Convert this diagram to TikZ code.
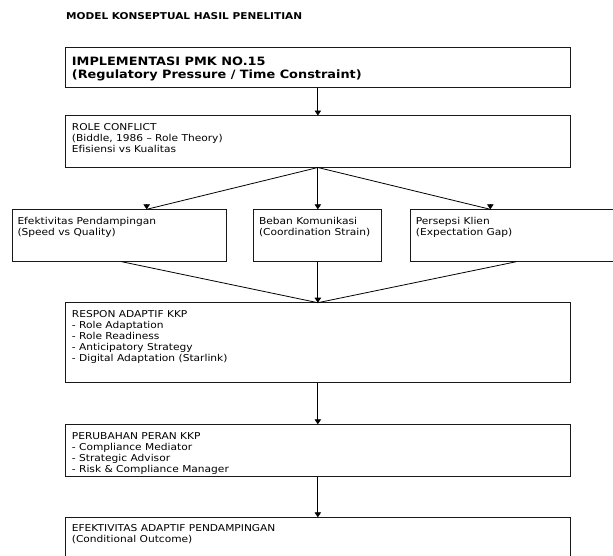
\documentclass[tikz,border=0pt]{standalone}
\usepackage{fontspec}
\setmainfont{DejaVu Sans}[FakeStretch=1.12, Ligatures=NoCommon]
\usetikzlibrary{arrows.meta,calc}
\newcommand{\bodyfnt}{\fontsize{9.5}{11}\selectfont}
\newcommand{\headfnt}{\fontsize{11.5}{13}\selectfont\bfseries}
\newcommand{\titlefnt}{\fontsize{9.4}{11}\selectfont\bfseries}
\newcommand{\bs}{\rule{0pt}{8pt}}
\newcommand{\hs}{\rule{0pt}{10pt}}
\begin{document}
\begin{tikzpicture}[x=1pt,y=-1pt,
  box/.style={draw=black!90, line width=1pt, inner sep=0pt, outer sep=0pt},
  txt/.style={anchor=north west, inner sep=0pt, align=left, font=\bodyfnt},
  conn/.style={line width=0.8pt},
  tip/.style={-{Triangle[width=6.5pt,length=5pt]}, line width=0.8pt}]
\useasboundingbox (0,0) rectangle (613,555);
\clip (0,0) rectangle (613,555);
\fill[white] (0,0) rectangle (613,555);

\node[anchor=base west, inner sep=0pt, font=\titlefnt] (title) at (66,19.5) {MODEL KONSEPTUAL HASIL PENELITIAN};

% boxes
\node[box, minimum width=504.3pt, minimum height=40pt] (b1) at (317.85,67.7) {};
\node[box, minimum width=504.3pt, minimum height=52pt] (b2) at (317.85,141.5) {};
\node[box, minimum width=213.7pt, minimum height=52.4pt] (b3a) at (119.15,235.5) {};
\node[box, minimum width=128pt, minimum height=52.4pt] (b3b) at (317.85,235.5) {};
\node[box, minimum width=215pt, minimum height=52.4pt] (b3c) at (517.5,235.5) {};
\node[box, minimum width=504.3pt, minimum height=80pt] (b4) at (317.85,342.7) {};
\node[box, minimum width=504.3pt, minimum height=52.4pt] (b5) at (317.85,450.5) {};
\node[box, minimum width=504.3pt, minimum height=52.7pt] (b6) at (317.85,543.65) {};

% texts (first-line baseline = strut top + strut height)
\node[txt, font=\headfnt] (t1) at ($(b1.north west)+(6,7.3)$) {\hs IMPLEMENTASI PMK NO.15\\(Regulatory Pressure / Time Constraint)};
\node[txt] (t2) at ($(b2.north west)+(6,6.5)$) {\bs ROLE CONFLICT\\(Biddle, 1986 – Role Theory)\\Efisiensi vs Kualitas};
\node[txt] (t3a) at ($(b3a.north west)+(5,7)$) {\bs Efektivitas Pendampingan\\(Speed vs Quality)};
\node[txt] (t3b) at ($(b3b.north west)+(5,7)$) {\bs Beban Komunikasi\\(Coordination Strain)};
\node[txt] (t3c) at ($(b3c.north west)+(5.7,7)$) {\bs Persepsi Klien\\(Expectation Gap)};
\node[txt] (t4) at ($(b4.north west)+(6,7)$) {\bs RESPON ADAPTIF KKP\\- Role Adaptation\\- Role Readiness\\- Anticipatory Strategy\\- Digital Adaptation (Starlink)};
\node[txt] (t5) at ($(b5.north west)+(6,7.4)$) {\bs PERUBAHAN PERAN KKP\\- Compliance Mediator\\- Strategic Advisor\\- Risk \& Compliance Manager};
\node[txt] (t6) at ($(b6.north west)+(6,6.4)$) {\bs EFEKTIVITAS ADAPTIF PENDAMPINGAN\\(Conditional Outcome)};

% connector points
\coordinate (in3a) at ($(b3a.north west)+(134.4,0)$);
\coordinate (in3c) at ($(b3c.north west)+(80.3,0)$);
\coordinate (out3a) at ($(b3a.south west)+(109.4,0)$);
\coordinate (out3c) at ($(b3c.south west)+(106.3,0)$);

% connectors
\draw[tip] (b1.south) -- (b2.north);
\draw[conn] (b2.south) -- (in3a);
\draw[tip] ($(in3a)+(0,-5.2)$) -- (in3a);
\draw[tip] (b2.south) -- (b3b.north);
\draw[conn] (b2.south) -- (in3c);
\draw[tip] ($(in3c)+(0,-5.2)$) -- (in3c);
\draw[conn] (out3a) -- (b4.north);
\draw[conn] (out3c) -- (b4.north);
\draw[tip] (b3b.south) -- (b4.north);
\draw[tip] (b4.south) -- (b5.north);
\draw[tip] (b5.south) -- (b6.north);
\end{tikzpicture}
\end{document}
